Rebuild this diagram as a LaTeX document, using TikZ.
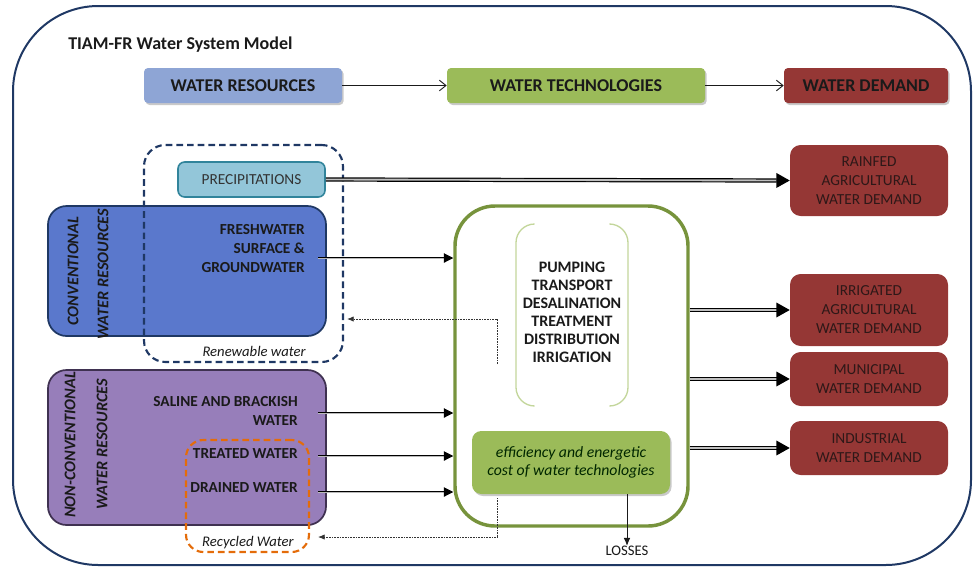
\documentclass[tikz,border=0pt]{standalone}
\usepackage{fontspec}
\setmainfont{Carlito}
\usetikzlibrary{arrows.meta,shadows,fit}
\definecolor{navy}{HTML}{1F3864}
\definecolor{wrcol}{HTML}{8EA5D5}
\definecolor{techgreen}{HTML}{9BBB59}
\definecolor{darkgreen}{HTML}{77933C}
\definecolor{lightgreen}{HTML}{C3D69B}
\definecolor{demred}{HTML}{953735}
\definecolor{convblue}{HTML}{5A78CC}
\definecolor{nonconv}{HTML}{977EBA}
\definecolor{nonconvborder}{HTML}{3F3151}
\definecolor{precfill}{HTML}{93C6D9}
\definecolor{precborder}{HTML}{31849B}
\definecolor{recyc}{HTML}{E46C0A}
\definecolor{txt}{HTML}{1A1A1A}
\definecolor{demtxt}{HTML}{2E1818}
\tikzset{
  hdr/.style={rounded corners=3pt, inner sep=0pt, text=txt, minimum height=26.25pt,
    font=\fontsize{13.5}{15}\selectfont\bfseries,
    drop shadow={shadow xshift=1.2pt, shadow yshift=-1.5pt, opacity=0.3, fill=black!70}},
  demand/.style={rounded corners=8pt, fill=demred, inner sep=0pt, text=demtxt, minimum width=118.5pt,
    align=center, font=\fontsize{11.5}{14.25}\selectfont},
  resbox/.style={rounded corners=14pt, line width=1.3pt, inner sep=0pt},
  rotlbl/.style={rotate=90, text=txt, font=\fontsize{12.2}{14}\selectfont\bfseries\itshape},
  inlbl/.style={text=txt, align=right, inner sep=0pt, font=\fontsize{11.5}{14.25}\selectfont\bfseries},
  dashbox/.style={dashed, dash pattern=on 5pt off 3pt, line width=1.6pt, rounded corners=16pt, inner sep=0pt},
  ilbl/.style={inner sep=0pt, text=txt, font=\fontsize{11}{12}\selectfont\itshape},
  thinarrow/.style={draw=txt, line width=0.7pt, -{Straight Barb[length=5pt,width=8pt]}},
  dblarrow/.style={draw=black, double=gray!55, double distance=0.7pt, line width=0.75pt,
    -{Triangle[length=7pt,width=7pt]}},
  bigarrow/.style={draw=black, double=gray!50, double distance=1.4pt, line width=0.9pt,
    -{Triangle[length=10pt,width=11pt]}},
  dotarrow/.style={draw=black!80, line width=0.6pt, dash pattern=on 0.6pt off 0.6pt,
    -{Latex[length=5pt,width=4pt]}},
}
\begin{document}
\begin{tikzpicture}[x=0.75pt,y=-0.75pt]
\useasboundingbox (0,0) rectangle (973,568);
% outer frame
\draw[navy, line width=1.5pt, rounded corners=64pt] (13,6) rectangle (971,565);
\node[anchor=base west, inner sep=0pt, text=txt, font=\fontsize{13.5}{15}\selectfont\bfseries] (title) at (68,49) {TIAM-FR Water System Model};

% headers
\node[hdr, fill=wrcol, minimum width=148.5pt] (wr) at (243,85.5) {WATER RESOURCES};
\node[hdr, fill=techgreen, minimum width=193.5pt] (wt) at (576,85.5) {WATER TECHNOLOGIES};
\node[hdr, fill=demred, minimum width=123pt] (wd) at (866,85.5) {WATER DEMAND};
\draw[thinarrow] (wr) -- (wt);
\draw[thinarrow] (wt) -- (wd);

% resource boxes
\node[resbox, fill=convblue, draw=navy, fit={(48,206)(326,336)}] (conv) {};
\node[resbox, fill=nonconv, draw=nonconvborder, fit={(48,370)(326,525)}] (nonc) {};
\node[rotlbl] (convl1) at (73,271) {CONVENTIONAL};
\node[rotlbl] (convl2) at (103,274) {WATER RESOURCES};
\node[rotlbl] (ncl1) at (70,445) {NON-CONVENTIONAL};
\node[rotlbl] (ncl2) at (102,444) {WATER RESOURCES};

\node[inlbl, anchor=east] (fresh) at (305,249) {FRESHWATER\\SURFACE \&\\GROUNDWATER};
\node[inlbl, anchor=east] (saline) at (298,411) {SALINE AND BRACKISH\\WATER};
\node[inlbl, anchor=east] (treated) at (298,454) {TREATED WATER};
\node[inlbl, anchor=east] (drained) at (298,488) {DRAINED WATER};

% precipitation
\node[rounded corners=5pt, fill=precfill, draw=precborder, line width=1.2pt, inner sep=0pt,
  minimum width=110.25pt, minimum height=26.25pt,
  text=black!80, font=\fontsize{11.5}{13}\selectfont] (prec) at (251.5,179.5) {PRECIPITATIONS};

% dashed groupings
\node[dashbox, draw=navy, fit={(144,145)(343,362)}] (ren) {};
\node[ilbl, anchor=base east] (renl) at (306,356) {Renewable water};
\node[dashbox, draw=recyc, rounded corners=13pt, fit={(186,440)(309,552)}] (rec) {};
\node[ilbl, anchor=base east] (recl) at (294,546) {Recycled Water};

% technology box
\node[draw=darkgreen, line width=2.6pt, rounded corners=30pt, inner sep=0pt, fit={(455,206)(688,526)}] (tech) {};
\draw[lightgreen, line width=1pt, rounded corners=14pt] (533,224) -- (516,224) -- (516,406) -- (533,406);
\draw[lightgreen, line width=1pt, rounded corners=14pt] (611,224) -- (628,224) -- (628,406) -- (611,406);
\node[align=center, text=txt, inner sep=0pt, font=\fontsize{12}{13.5}\selectfont\bfseries] (steps) at (572,312)
  {PUMPING\\TRANSPORT\\DESALINATION\\TREATMENT\\DISTRIBUTION\\IRRIGATION};
\node[rounded corners=7pt, fill=techgreen, inner sep=0pt, align=center, text=black!85!green,
  minimum width=148.5pt, minimum height=47.25pt,
  font=\fontsize{11.8}{13}\selectfont\itshape,
  drop shadow={shadow xshift=1.2pt, shadow yshift=-1.5pt, opacity=0.3, fill=black!70}] (eff) at (571,462.5)
  {efficiency and energetic\\cost of water technologies};
\node[inner sep=0pt, text=txt, font=\fontsize{11}{12}\selectfont] (loss) at (627,551) {LOSSES};
\draw[draw=txt, line width=0.7pt, -{Latex[length=6pt,width=5pt]}] (eff.south -| loss) -- (loss.north);

% demand boxes
\node[demand, minimum height=53.25pt] (rain) at (869,180.5) {RAINFED\\AGRICULTURAL\\WATER DEMAND};
\node[demand, minimum height=54pt] (irr) at (869,310) {IRRIGATED\\AGRICULTURAL\\WATER DEMAND};
\node[demand, minimum height=40.5pt] (muni) at (869,379) {MUNICIPAL\\WATER DEMAND};
\node[demand, minimum height=40.5pt] (ind) at (869,448) {INDUSTRIAL\\WATER DEMAND};

% arrows resources -> technologies
\coordinate (fs) at (318,258);
\coordinate (ss) at (318,413);
\coordinate (ts) at (318,456);
\coordinate (ds) at (318,492);
\draw[dblarrow] (fs) -- (fs -| tech.west);
\draw[dblarrow] (ss) -- (ss -| tech.west);
\draw[dblarrow] (ts) -- (ts -| tech.west);
\draw[dblarrow] (ds) -- (ds -| tech.west);

% big arrows
\draw[bigarrow] (prec.east) -- (rain.west);
\draw[bigarrow] (tech.east |- irr) -- (irr.west);
\draw[bigarrow] (tech.east |- muni) -- (muni.west);
\draw[bigarrow] (tech.east |- ind) -- (ind.west);

% dotted return arrows
\coordinate (d1s) at (497,364);
\coordinate (d1e) at (347,319);
\draw[dotarrow] (d1s) |- (d1e);
\coordinate (d2s) at (497,498);
\coordinate (d2e) at (318,537);
\draw[dotarrow] (d2s) |- (d2e);
\end{tikzpicture}
\end{document}
